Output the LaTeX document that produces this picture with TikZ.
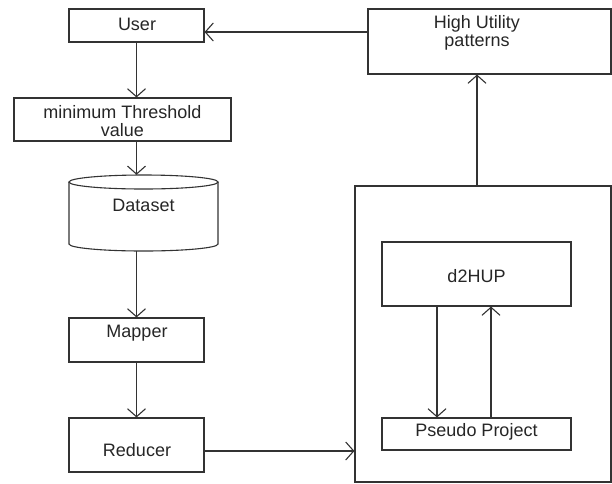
\documentclass[tikz,border=0pt]{standalone}
\usepackage{fontspec}
\setmainfont{Liberation Sans}
\usetikzlibrary{arrows.meta}
\begin{document}
\begin{tikzpicture}[x=1pt,y=-1pt,
  box/.style={draw=black!80,line width=1.1pt,rectangle,inner sep=0pt},
  lbl/.style={font=\fontsize{18}{18}\selectfont,text=black!85,align=center,inner sep=0pt},
  arr/.style={draw=black!80,line width=1.1pt,-{Straight Barb[length=8pt,width=18pt,line width=1.1pt]}},
  ln/.style={draw=black!80,line width=1.1pt}]
\useasboundingbox (0,0) rectangle (612,483);
% boxes
\node[box,minimum width=135pt,minimum height=33pt] (usr) at (136.5,25.5) {};
\node[lbl] at (137,24) {User};
\node[box,minimum width=217pt,minimum height=43pt] (thr) at (122.5,119.5) {};
\node[lbl] at (122.5,121) {minimum Threshold\\value};
% dataset cylinder
\node[inner sep=0pt,minimum width=149pt,minimum height=76pt] (ds) at (143.5,213) {};
\draw[ln] (69,182) -- (69,244) arc[start angle=180,end angle=360,x radius=74.5,y radius=-7] -- (218,182);
\draw[ln] (143.5,182) ellipse[x radius=74.5,y radius=7];
\node[lbl] at (143.5,205) {Dataset};
\node[box,minimum width=135pt,minimum height=44pt] (map) at (136.5,340) {};
\node[lbl] at (137,333) {Mapper};
\node[box,minimum width=135pt,minimum height=54pt] (red) at (136.5,445) {};
\node[lbl] at (137,450) {Reducer};
\node[box,minimum width=243pt,minimum height=65pt] (hup) at (489.5,41.5) {};
\node[lbl] at (477,33) {High Utility\\patterns};
\node[box,minimum width=256pt,minimum height=296pt] (big) at (483,334) {};
\node[box,minimum width=189pt,minimum height=64pt] (d2) at (476.5,274) {};
\node[lbl] at (476.5,276) {d2HUP};
\node[box,minimum width=189pt,minimum height=32pt] (ps) at (476.5,434) {};
\node[lbl] at (476.5,432) {Pseudo Project};
% connectors
\draw[arr] (usr.south) -- (usr.south |- thr.north);
\draw[arr] (usr.south |- thr.south) -- (usr.south |- ds.north);
\draw[arr] (usr.south |- ds.south) -- (usr.south |- map.north);
\draw[arr] (map.south) -- (map.south |- red.north);
\draw[arr] ([yshift=-6pt]red.east) -- ([yshift=-6pt]red.east -| big.west);
\draw[arr] ([xshift=-6pt]big.north) -- ([xshift=-6pt]big.north |- hup.south);
\draw[arr] ([yshift=-6.5pt]usr.east -| hup.west) -- ([yshift=-6.5pt]usr.east);
\draw[arr] ([xshift=-39.5pt]d2.south) -- ([xshift=-39.5pt]d2.south |- ps.north);
\draw[arr] ([xshift=14.5pt]ps.north) -- ([xshift=14.5pt]ps.north |- d2.south);
\end{tikzpicture}
\end{document}
